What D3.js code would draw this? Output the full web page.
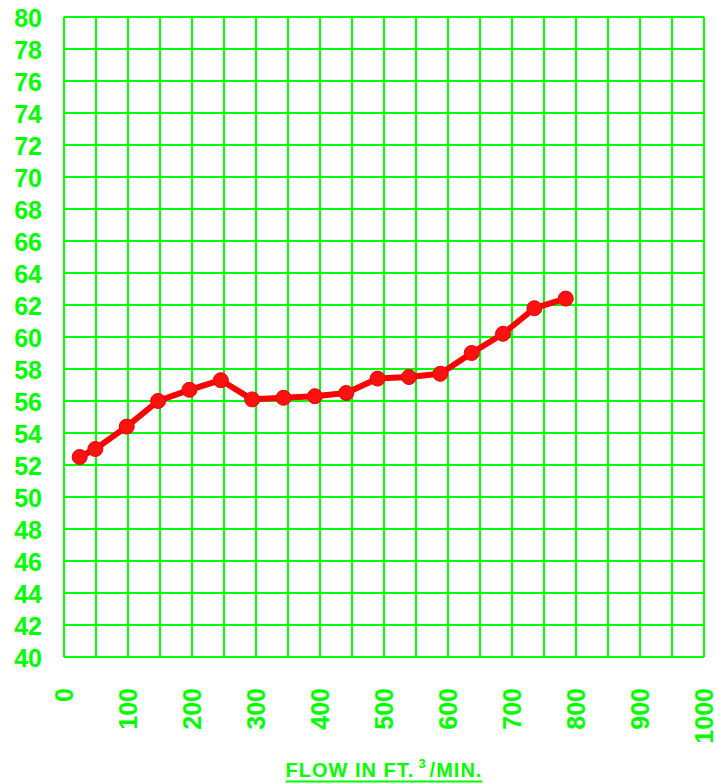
<!DOCTYPE html>
<html>
<head>
<meta charset="utf-8">
<script src="https://cdn.jsdelivr.net/npm/d3@7"></script>
<style>
  body { margin: 0; background: #fff; }
  text { font-family: "Liberation Sans", Arial, sans-serif; font-weight: bold; }
</style>
</head>
<body>
<div id="chart"></div>
<script>
// Our canvas
const width = 715,
  height = 783,
  marginLeft = 64,
  marginTop = 17,
  plotW = 640,
  plotH = 640,
  green = '#00ff00'

// Data
const flow = [24.5, 49, 98, 147, 196, 245, 294, 343, 392, 441, 490, 539, 588, 637, 686, 735, 784]
const values = [52.5, 53.0, 54.4, 56.0, 56.7, 57.3, 56.1, 56.2, 56.3, 56.5, 57.4, 57.5, 57.7, 59.0, 60.2, 61.8, 62.4]
const xTicks = [0, 100, 200, 300, 400, 500, 600, 700, 800, 900, 1000]
const yTicks = [40, 42, 44, 46, 48, 50, 52, 54, 56, 58, 60, 62, 64, 66, 68, 70, 72, 74, 76, 78, 80]
const xGrid = d3.range(0, 1001, 50)

const svg = d3.select('#chart')
  .append('svg')
  .attr('width', width)
  .attr('height', height)

const g = svg.append('g')
  .attr('transform', `translate(${marginLeft}, ${marginTop})`)

const x = d3.scaleLinear().domain([0, 1000]).range([0, plotW])
const y = d3.scaleLinear().domain([40, 80]).range([plotH, 0])

// grid
g.selectAll('line.vgrid')
  .data(xGrid)
  .enter()
  .append('line')
  .attr('x1', d => x(d)).attr('x2', d => x(d))
  .attr('y1', 0).attr('y2', plotH)
  .attr('stroke', green)
  .attr('stroke-width', 2)

g.selectAll('line.hgrid')
  .data(yTicks)
  .enter()
  .append('line')
  .attr('x1', 0).attr('x2', plotW)
  .attr('y1', d => y(d)).attr('y2', d => y(d))
  .attr('stroke', green)
  .attr('stroke-width', 2)

// y axis labels
const yAxis = g.append('g')
  .call(d3.axisLeft(y).tickValues(yTicks).tickSize(0).tickPadding(22))
yAxis.select('.domain').remove()
yAxis.selectAll('text')
  .attr('fill', green)
  .style('font-size', '25px')
  .attr('dy', '0.36em')

// x axis labels, rotated
const xAxis = g.append('g')
  .attr('transform', `translate(0, ${plotH})`)
  .call(d3.axisBottom(x).tickValues(xTicks).tickSize(0).tickFormat(d3.format('d')))
xAxis.select('.domain').remove()
xAxis.selectAll('text')
  .attr('fill', green)
  .style('font-size', '25px')
  .attr('transform', 'rotate(-90)')
  .attr('text-anchor', 'end')
  .attr('x', -31)
  .attr('y', 0)
  .attr('dy', '0.34em')

// the line
const line = d3.line()
  .x((d, i) => x(flow[i]))
  .y(d => y(d))

g.append('path')
  .datum(values)
  .attr('d', line)
  .attr('fill', 'none')
  .attr('stroke', '#ff0000')
  .attr('stroke-width', 6)
  .attr('stroke-linejoin', 'round')

g.selectAll('circle')
  .data(values)
  .enter()
  .append('circle')
  .attr('cx', (d, i) => x(flow[i]))
  .attr('cy', d => y(d))
  .attr('r', 7.5)
  .attr('fill', '#ff1111')
  .attr('stroke', '#f00000')
  .attr('stroke-width', 1)

// axis title
const title = svg.append('text')
  .attr('x', marginLeft + plotW / 2)
  .attr('y', 777)
  .attr('text-anchor', 'middle')
  .attr('fill', green)
  .style('font-size', '20px')
  .style('letter-spacing', '1px')
title.append('tspan').text('FLOW IN FT.')
title.append('tspan').text('3').attr('dy', -9).attr('dx', 4).style('font-size', '13px')
title.append('tspan').text('/MIN.').attr('dy', 9).attr('dx', 3)

const bb = title.node().getBBox()
svg.append('line')
  .attr('x1', bb.x).attr('x2', bb.x + bb.width)
  .attr('y1', 781.5).attr('y2', 781.5)
  .attr('stroke', green)
  .attr('stroke-width', 2)
</script>
</body>
</html>
